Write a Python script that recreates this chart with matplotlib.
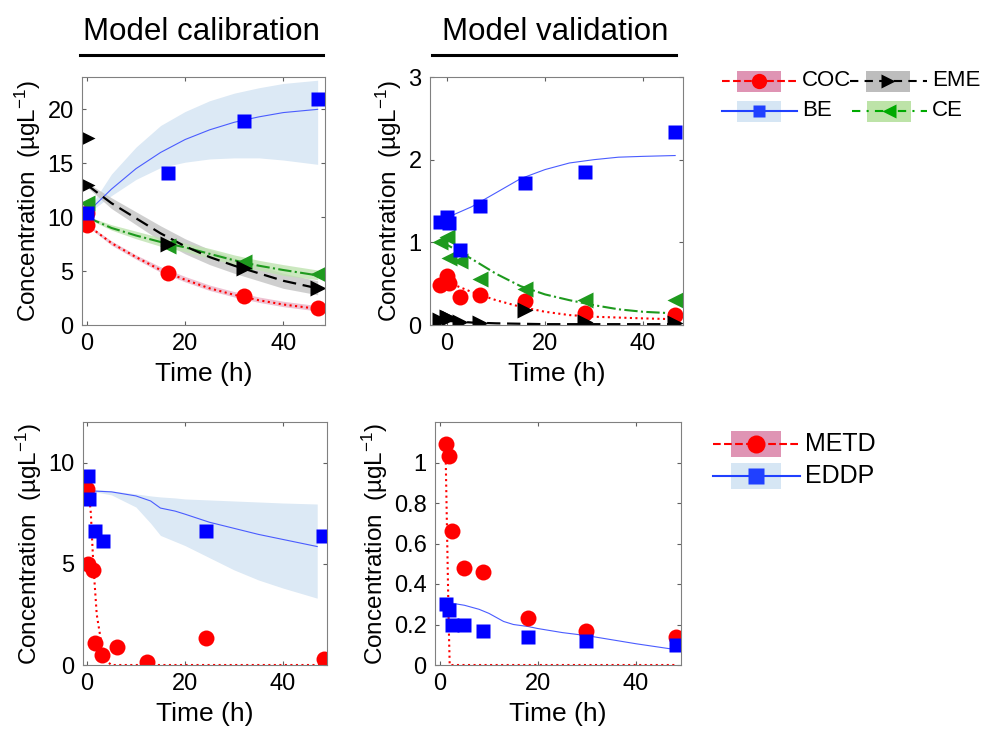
import matplotlib
matplotlib.use("Agg")
import matplotlib.pyplot as plt
from matplotlib.patches import Rectangle
from matplotlib.lines import Line2D

plt.rcParams['font.family'] = ['Liberation Sans', 'DejaVu Sans']
plt.rcParams['mathtext.default'] = 'regular'

# ---- calibration, cocaine (top left) ----
cal_t = [0, 16.5, 32, 47]
cal_coc = [9.3, 4.8, 2.7, 1.6]
cal_coc_t0 = [0]
cal_coc_0 = [10.4]
cal_be_t = [0, 16.5, 32, 47]
cal_be = [10.4, 14.1, 18.9, 21.0]
cal_eme_t = [0, 0, 16.5, 32, 47]
cal_eme = [17.3, 13.0, 7.5, 5.3, 3.4]
cal_ce_t = [0, 16.5, 32, 47]
cal_ce = [11.3, 7.3, 5.8, 4.7]

mod_t = [0, 5, 10, 15, 20, 25, 30, 35, 40, 47]
mod_be = [10.4, 12.6, 14.5, 16.0, 17.2, 18.1, 18.8, 19.3, 19.7, 20.0]
mod_be_hi = [10.5, 14.0, 16.5, 18.5, 19.8, 20.8, 21.5, 22.0, 22.4, 22.7]
mod_be_lo = [10.3, 12.0, 13.5, 14.6, 15.1, 15.4, 15.5, 15.5, 15.3, 14.9]
mod_eme = [13.0, 11.3, 9.9, 8.5, 7.3, 6.3, 5.5, 4.8, 4.1, 3.4]
mod_eme_hi = [13.2, 11.8, 10.5, 9.2, 8.0, 7.0, 6.2, 5.5, 4.8, 4.1]
mod_eme_lo = [12.8, 10.8, 9.3, 7.8, 6.6, 5.6, 4.8, 4.1, 3.4, 2.8]
mod_ce = [10.0, 9.0, 8.3, 7.7, 7.2, 6.6, 6.0, 5.5, 5.1, 4.6]
mod_ce_hi = [10.1, 9.3, 8.7, 8.1, 7.6, 7.1, 6.5, 6.0, 5.6, 5.1]
mod_ce_lo = [9.9, 8.8, 8.0, 7.3, 6.8, 6.2, 5.6, 5.1, 4.6, 4.2]
mod_coc = [9.3, 7.6, 6.3, 5.1, 4.2, 3.4, 2.8, 2.3, 1.9, 1.5]
mod_coc_hi = [9.4, 7.8, 6.5, 5.4, 4.5, 3.7, 3.1, 2.6, 2.2, 1.8]
mod_coc_lo = [9.2, 7.4, 6.1, 4.9, 4.0, 3.2, 2.6, 2.1, 1.7, 1.3]

# ---- validation, cocaine (top right) ----
val_t = [-1.5, -0.1, 0.4, 2.6, 6.7, 15.9, 28.2, 46.6]
val_be = [1.25, 1.31, 1.23, 0.91, 1.44, 1.72, 1.85, 2.34]
val_ce = [1.0, 1.07, 0.81, 0.78, 0.56, 0.44, 0.30, 0.30]
val_coc = [0.48, 0.59, 0.51, 0.34, 0.36, 0.29, 0.14, 0.12]
val_eme = [0.06, 0.10, 0.08, 0.04, 0.02, 0.18, 0.04, 0.02]

vmod_t = [0, 5, 10, 15, 20, 25, 30, 35, 40, 46.6]
vmod_be = [1.3, 1.43, 1.6, 1.77, 1.88, 1.96, 2.0, 2.03, 2.04, 2.05]
vmod_ce_t = [-1.5, 0, 5, 10, 15, 20, 25, 30, 35, 40, 46.6]
vmod_ce = [1.0, 0.97, 0.8, 0.62, 0.47, 0.37, 0.3, 0.24, 0.19, 0.16, 0.14]
vmod_coc = [0.52, 0.4, 0.3, 0.22, 0.16, 0.12, 0.1, 0.09, 0.08, 0.07]
vmod_eme = [0.05, 0.03, 0.02, 0.015, 0.01, 0.01, 0.01, 0.01, 0.01, 0.01]

# ---- calibration, methadone (bottom left) ----
mcal_metd_t = [0, 0.2, 1.2, 1.6, 3.1, 6.1, 12.2, 24.3, 48.3]
mcal_metd = [8.7, 5.0, 4.7, 1.07, 0.49, 0.9, 0.16, 1.31, 0.28]
mcal_eddp_t = [0.2, 0.4, 1.7, 3.3, 24.3, 48.2]
mcal_eddp = [9.34, 8.2, 6.64, 6.11, 6.64, 6.39]

mmod_metd_t = [0.3, 0.8, 1.3, 2, 3, 4, 5, 48]
mmod_metd = [8.7, 7.5, 5.0, 2.5, 1.0, 0.2, 0.0, 0.0]
mmod_eddp_t = [0.5, 5, 10, 13, 15, 18, 20, 25, 30, 35, 40, 47]
mmod_eddp = [8.6, 8.55, 8.35, 8.1, 7.75, 7.6, 7.45, 7.05, 6.75, 6.45, 6.2, 5.85]
mmod_eddp_hi = [8.7, 8.6, 8.45, 8.35, 8.3, 8.25, 8.2, 8.15, 8.1, 8.05, 8.0, 7.95]
mmod_eddp_lo = [8.6, 8.4, 7.8, 7.0, 6.4, 6.1, 5.9, 5.3, 4.7, 4.2, 3.8, 3.3]

# ---- validation, methadone (bottom right) ----
mval_t = [1.2, 1.9, 2.4, 5.0, 8.8, 18.0, 29.9, 48.2]
mval_metd = [1.09, 1.03, 0.66, 0.48, 0.46, 0.23, 0.17, 0.14]
mval_eddp = [0.30, 0.27, 0.20, 0.20, 0.17, 0.14, 0.12, 0.10]

vmmod_metd_t = [1.2, 1.5, 1.8, 2.0, 48]
vmmod_metd = [1.0, 0.6, 0.2, 0.0, 0.0]
vmmod_eddp_t = [1.2, 5, 8, 10, 13, 15, 18, 20, 25, 30, 35, 40, 47]
vmmod_eddp = [0.31, 0.295, 0.275, 0.255, 0.215, 0.2, 0.19, 0.18, 0.16, 0.145, 0.125, 0.105, 0.08]

RED = '#ff0000'
BLUE = '#0000ff'
BLINE = '#4a5cff'
GREEN = '#1e9a1e'
PINK = '#e8a8c0'
LBLUE = '#dce9f5'
GRAY = '#c4c4c4'
LGREEN = '#bfe3b0'

MS_O, MS_S, MS_T = 11.5, 10.5, 12

fig = plt.figure(figsize=(9.82, 7.31), dpi=100)
W, H = 982, 731


def make_ax(l, r, t, b):
    ax = fig.add_axes([l / W, 1 - b / H, (r - l) / W, (b - t) / H])
    ax.tick_params(direction='in', top=True, right=True, labelsize=17,
                   length=3, color='#606060', pad=6)
    for s in ax.spines.values():
        s.set_color('#808080')
    ax.set_xlabel('Time (h)', fontsize=19, labelpad=5)
    ax.set_ylabel('Concentration  (µgL$^{-1}$)', fontsize=17.5, labelpad=3)
    ax.set_xticks([0, 20, 40])
    return ax


# top left
ax = make_ax(82, 325, 77, 325)
ax.fill_between(mod_t, mod_be_lo, mod_be_hi, color=LBLUE, lw=0)
ax.fill_between(mod_t, mod_eme_lo, mod_eme_hi, color=GRAY, alpha=0.8, lw=0)
ax.fill_between(mod_t, mod_ce_lo, mod_ce_hi, color=LGREEN, alpha=0.8, lw=0)
ax.fill_between(mod_t, mod_coc_lo, mod_coc_hi, color=PINK, alpha=0.7, lw=0)
ax.plot(mod_t, mod_be, color=BLINE, lw=0.8)
ax.plot(mod_t, mod_coc, color=RED, lw=1.5, ls=':')
ax.plot(mod_t, mod_ce, color=GREEN, lw=1.5, ls='-.')
ax.plot(mod_t, mod_eme, color='black', lw=1.6, ls=(0, (6, 3)))
ax.plot(cal_coc_t0, cal_coc_0, 'o', color=RED, ms=MS_O, mec='none')
ax.plot(cal_t, cal_coc, 'o', color=RED, ms=MS_O, mec='none')
ax.plot(cal_ce_t, cal_ce, '<', color=GREEN, ms=MS_T, mec='none')
ax.plot(cal_eme_t, cal_eme, '>', color='black', ms=MS_T, mec='none')
ax.plot(cal_be_t, cal_be, 's', color=BLUE, ms=MS_S, mec='none')
ax.set_xlim(-1, 48.5)
ax.set_ylim(0, 23)
ax.set_yticks([0, 5, 10, 15, 20])

# top right
ax = make_ax(430, 683, 77, 325)
ax.plot(vmod_t, vmod_be, color=BLINE, lw=0.8)
ax.plot(vmod_t, vmod_coc, color=RED, lw=1.5, ls=':')
ax.plot(vmod_ce_t, vmod_ce, color=GREEN, lw=1.5, ls='-.')
ax.plot(vmod_t, vmod_eme, color='black', lw=1.6, ls=(0, (6, 3)))
ax.plot(val_t, val_coc, 'o', color=RED, ms=MS_O, mec='none')
ax.plot(val_t, val_ce, '<', color=GREEN, ms=MS_T, mec='none')
ax.plot(val_t, val_eme, '>', color='black', ms=MS_T, mec='none')
ax.plot(val_t, val_be, 's', color=BLUE, ms=MS_S, mec='none')
ax.set_xlim(-3.5, 48.2)
ax.set_ylim(0, 3)
ax.set_yticks([0, 1, 2, 3])

# bottom left
ax = make_ax(83, 327, 422, 665)
ax.fill_between(mmod_eddp_t, mmod_eddp_lo, mmod_eddp_hi, color=LBLUE, lw=0)
ax.plot(mmod_eddp_t, mmod_eddp, color=BLINE, lw=0.8)
ax.plot(mmod_metd_t, mmod_metd, color=RED, lw=1.5, ls=':')
ax.plot(mcal_metd_t, mcal_metd, 'o', color=RED, ms=MS_O, mec='none')
ax.plot(mcal_eddp_t, mcal_eddp, 's', color=BLUE, ms=MS_S, mec='none')
ax.set_xlim(-0.8, 49)
ax.set_ylim(0, 12)
ax.set_yticks([0, 5, 10])

# bottom right
ax = make_ax(435, 681, 422, 665)
ax.plot(vmmod_eddp_t, vmmod_eddp, color=BLINE, lw=0.8)
ax.plot(vmmod_metd_t, vmmod_metd, color=RED, lw=1.5, ls=':')
ax.plot(mval_t, mval_metd, 'o', color=RED, ms=MS_O, mec='none')
ax.plot(mval_t, mval_eddp, 's', color=BLUE, ms=MS_S, mec='none')
ax.set_xlim(-1.0, 49.2)
ax.set_ylim(0, 1.2)
ax.set_yticks([0, 0.2, 0.4, 0.6, 0.8, 1.0])
ax.set_yticklabels(['0', '0.2', '0.4', '0.6', '0.8', '1'])

# overlay for titles and legends (pixel coordinates)
ov = fig.add_axes([0, 0, 1, 1], zorder=5)
ov.set_xlim(0, W)
ov.set_ylim(H, 0)
ov.axis('off')

ov.text(201, 40, 'Model calibration', fontsize=22.5, ha='center', va='baseline')
ov.plot([80, 323], [55, 55], color='black', lw=2.2)
ov.text(555, 40, 'Model validation', fontsize=22.5, ha='center', va='baseline')
ov.plot([432, 676], [55, 55], color='black', lw=2.2)


def legend_item(x0, y, label, color, ls, box, marker, ms, fs, x1=None, bw=44, bh=21):
    x1 = x0 + 75 if x1 is None else x1
    xc = (x0 + x1) / 2
    ov.add_patch(Rectangle((xc - bw / 2, y - bh / 2), bw, bh, color=box, lw=0))
    ov.add_line(Line2D([x0, x1], [y, y], color=color, ls=ls, lw=1.5))
    ov.plot([xc], [y], marker, color=color, ms=ms, mec='none')
    ov.text(x1 + 5, y, label, fontsize=fs, va='center', ha='left')


legend_item(722, 81, 'COC', RED, '--', '#df94b4', 'o', 11, 16)
legend_item(850, 81, 'EME', 'black', (0, (4, 3)), '#bdbdbd', '>', 10, 16, x1=927)
legend_item(722, 111, 'BE', '#2040ff', '-', '#d6e6f4', 's', 9, 16)
legend_item(852, 111, 'CE', '#00aa00', (0, (4, 3, 1, 3)), '#bde3a8', '<', 10, 16, x1=927)

legend_item(713, 444, 'METD', RED, '--', '#df94b4', 'o', 13, 18, x1=800, bw=50, bh=26)
legend_item(713, 476, 'EDDP', '#2040ff', '-', '#d6e6f4', 's', 11, 18, x1=800, bw=50, bh=26)

fig.savefig('out.png', dpi=100)
